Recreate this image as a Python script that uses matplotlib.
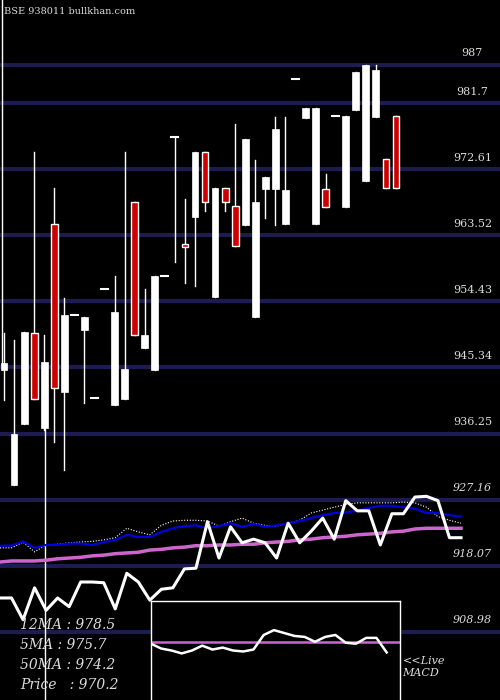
import matplotlib
matplotlib.use("Agg")
import matplotlib.pyplot as plt
import numpy as np

# candle data: open, close, high, low
opens  = [945.0,929.2,937.6,950.1,937.0,965.1,942.0,952.6,950.5,941.1,956.2,940.2,941.0,968.1,948.0,945.0,957.9,977.1,962.4,966.1,
          975.0,955.0,970.1,967.6,965.0,952.3,969.9,969.9,965.1,985.1,979.7,965.1,969.9,980.0,967.4,980.8,971.0,979.8,974.1,980.0]
closes = [946.0,936.2,950.2,941.0,946.1,942.5,952.6,952.6,952.3,941.1,956.2,953.0,945.1,949.8,949.8,957.9,957.9,977.1,962.0,975.0,
          968.1,970.1,968.1,962.1,976.8,968.1,971.6,978.2,969.8,985.1,981.1,981.1,967.4,980.0,980.0,986.0,987.0,986.3,970.1,970.1]
highs  = [950.1,949.1,950.2,975.0,949.8,970.1,954.9,952.6,952.3,941.1,956.2,957.9,975.0,968.1,956.2,957.9,957.9,977.1,968.5,975.0,
          975.0,970.1,970.1,978.9,976.8,973.9,971.6,979.8,979.8,985.1,981.1,981.1,972.0,980.0,980.0,986.0,987.0,987.0,974.1,980.0]
lows   = [940.9,929.2,937.6,941.0,936.7,935.1,931.2,952.6,940.5,941.1,956.2,940.2,941.0,949.8,948.0,945.0,957.9,959.9,957.0,956.6,
          966.9,955.0,966.9,962.1,965.0,952.3,965.9,965.0,965.1,985.1,979.7,965.1,967.4,980.0,967.4,980.8,971.0,979.8,970.1,970.1]

price_line = [913.6,913.6,910.6,915.0,911.9,913.6,912.4,915.8,915.8,915.7,912.1,917.0,915.8,913.3,914.8,915.0,917.6,917.7,924.1,919.1,
              923.4,921.2,921.7,921.2,919.1,923.9,921.2,922.8,924.6,921.7,927.0,925.6,925.6,920.9,925.2,925.2,927.5,927.6,927.0,921.9,921.9]
ma_blue = [920.8,920.8,921.4,920.5,920.9,920.9,921.1,921.1,920.9,921.3,921.6,922.3,922.0,922.0,922.7,923.2,923.5,923.6,923.2,923.5,
           923.9,923.4,923.8,923.4,923.6,923.9,924.2,924.6,925.0,925.3,925.4,925.6,926.0,926.3,926.3,926.1,925.9,925.3,925.3,925.0,924.8]
ma_pink = [918.55,918.7,918.7,918.7,918.8,919.0,919.1,919.2,919.4,919.5,919.7,919.8,919.9,920.2,920.3,920.5,920.6,920.8,920.8,920.9,
           920.9,921.0,921.0,921.2,921.3,921.4,921.6,921.7,921.9,922.0,922.1,922.3,922.4,922.5,922.7,922.8,923.1,923.2,923.2,923.2,923.2]
ma_dot = [920.5,920.5,921.3,919.95,920.9,921.0,921.2,921.3,921.4,921.6,921.9,923.2,922.7,922.3,923.6,924.2,924.3,924.3,924.2,923.5,
          924.1,924.6,923.9,923.6,923.5,923.9,924.3,925.3,925.7,926.1,926.5,926.7,926.7,926.7,926.7,926.8,926.7,926.1,924.8,924.3,923.9]
macd = [-0.2,-0.7,-0.9,-1.2,-0.9,-0.4,-0.8,-0.6,-0.9,-1.0,-0.8,0.7,1.2,0.9,0.6,0.5,0.0,0.5,0.7,-0.1,-0.2,0.4,0.4,-1.1]
signal = 0.0
grid_levels = [987, 981.7, 972.61, 963.52, 954.43, 945.34, 936.25, 927.16, 918.07, 908.98]
grid_labels = ["987", "981.7", "972.61", "963.52", "954.43", "945.34", "936.25", "927.16", "918.07", "908.98"]
legend_lines = ["12MA : 978.5", "5MA : 975.7", "50MA : 974.2", "Price   : 970.2"]

fig = plt.figure(figsize=(5, 7), dpi=100, facecolor="black")
ax = fig.add_axes([0, 0, 1, 1], facecolor="black")
ax.set_xlim(-0.4, 49.35)
ax.set_ylim(899.55, 995.95)
ax.axis("off")

for g, lab in zip(grid_levels, grid_labels):
    ax.axhline(g, color="#1c1c50", lw=3, zorder=1)
    ax.text(46.6, g + 0.9, lab, color="#dddddd", fontsize=8, family="DejaVu Serif",
            style="italic" if g < 930 else "normal", va="bottom", ha="center", zorder=5)

ax.plot([-0.25, -0.25], [945.9, 995.95], color="white", lw=1, zorder=2)
ax.plot([4.1, 4.1], [899.55, 937], color="white", lw=1, zorder=2)

w = 0.68
for i, (o, c, h, l) in enumerate(zip(opens, closes, highs, lows)):
    ax.plot([i, i], [l, h], color="white", lw=1, zorder=3)
    if abs(o - c) < 0.05:
        ax.plot([i - 0.35, i + 0.35], [o, o], color="white", lw=1.5, zorder=4)
    elif c > o:
        ax.bar(i, c - o, w, o, color="white", edgecolor="white", lw=0.5, zorder=4)
    else:
        ax.bar(i, o - c, w, c, color="#cc0000", edgecolor="white", lw=1, zorder=4)

lx = np.arange(len(price_line)) * (461 / 40) / 10.05 - 0.4
ax.plot(lx, ma_pink, color="#cc66cc", lw=2.5, zorder=5)
ax.plot(lx, ma_dot, color="white", lw=0.8, ls=(0, (1, 1.5)), zorder=5)
ax.plot(lx, ma_blue, color="#0000dd", lw=1.6, zorder=5)
ax.plot(lx, price_line, color="white", lw=2.2, zorder=6)

for k, t in enumerate(legend_lines):
    fig.text(0.04, 1 - (625 + 20 * k) / 700, t, color="#dddddd", fontsize=10,
             family="DejaVu Serif", style="italic", va="center", zorder=7)
fig.text(0.805, 1 - 667 / 700, "<<Live\nMACD", color="#dddddd", fontsize=8,
         family="DejaVu Serif", style="italic", va="center", linespacing=1.3)

mx = fig.add_axes([151 / 500, 0, 249 / 500, 99 / 700], facecolor="black")
mx.set_xlim(0, len(macd) - 1 + 1.3)
mx.set_ylim(-6, 4.2)
mx.axhline(signal, color="#cc66cc", lw=1.8)
mx.plot(np.arange(len(macd)), macd, color="white", lw=1.8)
mx.set_xticks([]); mx.set_yticks([])
for s in mx.spines.values():
    s.set_color("white"); s.set_linewidth(1)
mx.spines["bottom"].set_visible(False)

fig.text(0.008, 1 - 12 / 700, "BSE 938011 bullkhan.com", color="#dddddd", fontsize=7,
         family="DejaVu Serif", va="center")
fig.savefig("out.png", facecolor="black")
